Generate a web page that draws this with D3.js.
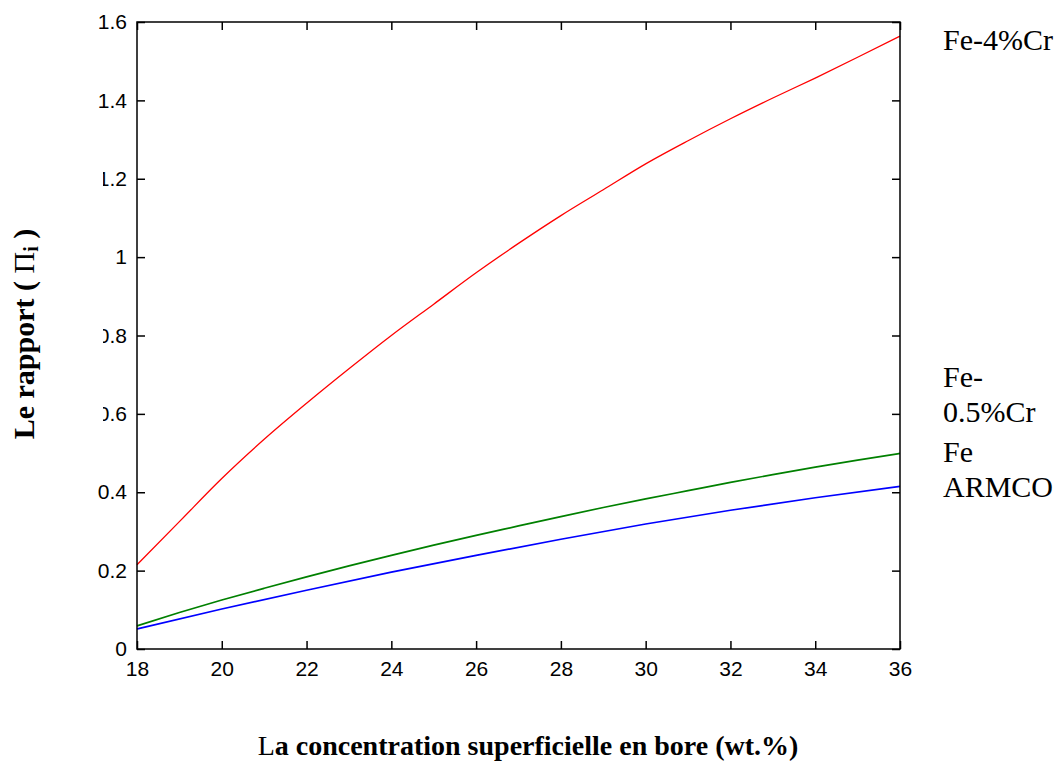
<!DOCTYPE html>
<html lang="fr">
<head>
    <meta charset="UTF-8">
    <title>Le rapport en fonction de la concentration en bore</title>
    <script src="https://d3js.org/d3.v7.min.js"></script>
    <style>
        body { margin: 0; background: white; }
        svg { background-color: white; display: block; }
        .tick text { font-family: "Liberation Sans", Arial, sans-serif; font-size: 21px; fill: black; }
        .label { font-family: "Liberation Serif", "Times New Roman", serif; fill: black; }
    </style>
</head>
<body>
    <script>
        const width = 1062;
        const height = 767;
        const margin = {top: 22, right: 162, bottom: 118, left: 137};

        // x values (wt.% B)
        const xRed = [18, 19, 20, 21, 22, 23, 24, 25, 26, 27, 28, 29, 30, 31, 32, 33, 34, 35, 36];
        const fe4Cr = [0.215, 0.325, 0.435, 0.535, 0.627, 0.715, 0.80, 0.88, 0.96, 1.035, 1.106, 1.172, 1.238, 1.297, 1.353, 1.406, 1.457, 1.51, 1.564];
        const fe05Cr = [0.059, 0.093, 0.125, 0.155, 0.184, 0.212, 0.239, 0.265, 0.29, 0.314, 0.338, 0.361, 0.383, 0.404, 0.425, 0.445, 0.464, 0.482, 0.499];
        const xBlue = [18, 20, 22, 24, 26, 28, 30, 32, 34, 36];
        const feArmco = [0.051, 0.102, 0.150, 0.196, 0.239, 0.28, 0.319, 0.354, 0.386, 0.415];

        const xTicks = [18, 20, 22, 24, 26, 28, 30, 32, 34, 36];
        const yTicks = [0, 0.2, 0.4, 0.6, 0.8, 1, 1.2, 1.4, 1.6];

        const series = [
            {name: 'Fe-4%Cr', x: xRed, y: fe4Cr, color: '#ff0000', w: 1.3},
            {name: 'Fe-0.5%Cr', x: xRed, y: fe05Cr, color: '#008000', w: 1.7},
            {name: 'Fe ARMCO', x: xBlue, y: feArmco, color: '#0000ff', w: 1.7}
        ];

        const svg = d3.select('body')
                      .append('svg')
                      .attr('width', width)
                      .attr('height', height);

        const xScale = d3.scaleLinear()
                         .domain([18, 36])
                         .range([margin.left, width - margin.right]);

        const yScale = d3.scaleLinear()
                         .domain([0, 1.6])
                         .range([height - margin.bottom, margin.top]);

        const x0 = xScale.range()[0], x1 = xScale.range()[1];
        const y0 = yScale.range()[0], y1 = yScale.range()[1];

        // curves
        const line = d3.line()
                       .x(d => xScale(d[0]))
                       .y(d => yScale(d[1]))
                       .curve(d3.curveMonotoneX);

        series.forEach(s => {
            svg.append('path')
               .datum(s.x.map((v, i) => [v, s.y[i]]))
               .attr('fill', 'none')
               .attr('stroke', s.color)
               .attr('stroke-width', s.w)
               .attr('d', line);
        });

        // axes, matlab style: ticks inside on every side
        const tickLen = 8;
        svg.append('g')
           .attr('transform', `translate(0,${y0})`)
           .call(d3.axisBottom(xScale).tickValues(xTicks).tickSize(-tickLen).tickPadding(12).tickFormat(d3.format('d')))
           .call(g => g.select('.domain').remove());
        svg.append('g')
           .attr('transform', `translate(0,${y1})`)
           .call(d3.axisTop(xScale).tickValues(xTicks).tickSize(-tickLen).tickFormat(''))
           .call(g => g.select('.domain').remove());
        svg.append('g')
           .attr('transform', `translate(${x0},0)`)
           .call(d3.axisLeft(yScale).tickValues(yTicks).tickSize(-tickLen).tickPadding(10).tickFormat(d => d3.format('')(+d.toFixed(1))))
           .call(g => g.select('.domain').remove());
        svg.append('g')
           .attr('transform', `translate(${x1},0)`)
           .call(d3.axisRight(yScale).tickValues(yTicks).tickSize(-tickLen).tickFormat(''))
           .call(g => g.select('.domain').remove());

        svg.selectAll('.tick line').attr('stroke', 'black').attr('stroke-width', 1.5);

        svg.append('rect')
           .attr('x', x0).attr('y', y1)
           .attr('width', x1 - x0).attr('height', y0 - y1)
           .attr('fill', 'none')
           .attr('stroke', 'black')
           .attr('stroke-width', 1.5);

        // y label (its white box hides part of some tick labels, as in the source)
        svg.append('rect')
           .attr('x', 0).attr('y', 168)
           .attr('width', 103).attr('height', 290)
           .attr('fill', 'white');

        const yLab = svg.append('text')
           .attr('class', 'label')
           .attr('transform', 'translate(34,334) rotate(-90)')
           .attr('text-anchor', 'middle')
           .style('font-size', '30px')
           .style('font-weight', 'bold');
        yLab.append('tspan').text('Le rapport ( ');
        yLab.append('tspan').style('font-weight', 'normal').text('Π');
        yLab.append('tspan').style('font-size', '20px').attr('dy', 4).text('i');
        yLab.append('tspan').attr('dy', -4).text(' )');

        // x label
        const xLab = svg.append('text')
           .attr('class', 'label')
           .attr('x', 528)
           .attr('y', 755)
           .attr('text-anchor', 'middle')
           .style('font-size', '28px')
           .style('font-weight', 'bold');
        xLab.append('tspan').style('font-weight', 'normal').text('L');
        xLab.append('tspan').text('a concentration superficielle en bore (wt.%)');

        // curve names on the right
        const names = [
            {lines: ['Fe-4%Cr'], y: 50},
            {lines: ['Fe-', '0.5%Cr'], y: 387},
            {lines: ['Fe', 'ARMCO'], y: 462}
        ];
        names.forEach(n => {
            const t = svg.append('text')
               .attr('class', 'label')
               .attr('x', 943)
               .attr('y', n.y)
               .style('font-size', '30px');
            n.lines.forEach((l, i) => {
                t.append('tspan').attr('x', 943).attr('dy', i === 0 ? 0 : 35).text(l);
            });
        });
    </script>
</body>
</html>
